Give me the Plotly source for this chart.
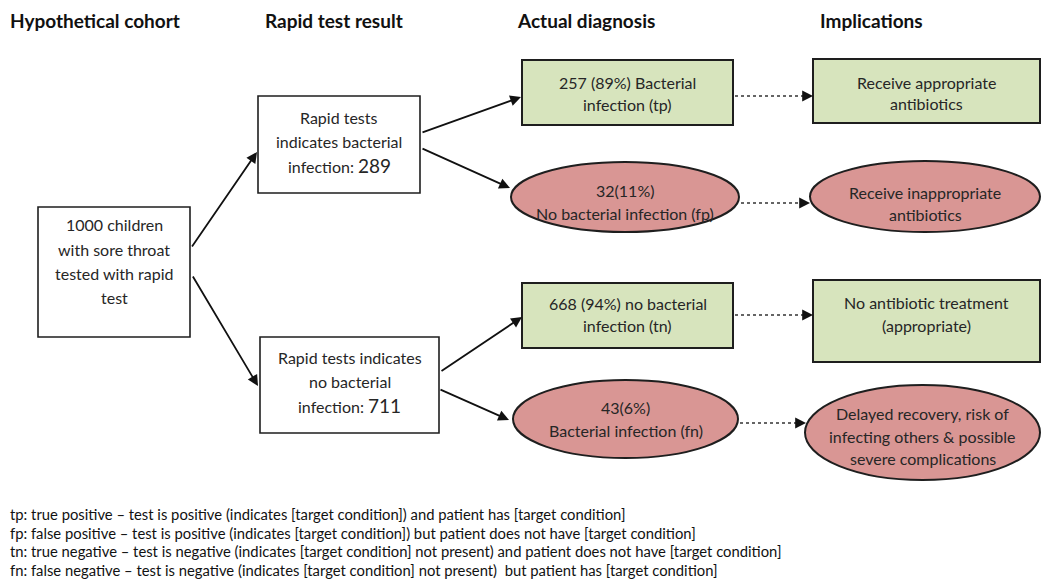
import plotly.graph_objects as go

# ---------------- data ----------------
headers = ["Hypothetical cohort", "Rapid test result", "Actual diagnosis", "Implications"]
cohort_n = 1000
test_positive = 289
test_negative = 711
diag_counts = [257, 32, 668, 43]          # tp, fp, tn, fn
diag_pcts = [89, 11, 94, 6]
diag_codes = ["tp", "fp", "tn", "fn"]
implications = [
    ["Receive appropriate", "antibiotics"],
    ["Receive inappropriate", "antibiotics"],
    ["No antibiotic treatment", "(appropriate)"],
    ["Delayed recovery, risk of", "infecting others & possible", "severe complications"],
]
footnotes = [
    "tp: true positive \u2013 test is positive (indicates [target condition]) and patient has [target condition]",
    "fp: false positive \u2013 test is positive (indicates [target condition]) but patient does not have [target condition]",
    "tn: true negative \u2013 test is negative (indicates [target condition] not present) and patient does not have [target condition]",
    "fn: false negative \u2013 test is negative (indicates [target condition] not present)  but patient has [target condition]",
]

# ---------------- text built from data ----------------
num = lambda v: f"<span style='font-size:19px'>{v}</span>"
cohort_lines = [f"{cohort_n} children", "with sore throat", "tested with rapid", "test"]
pos_lines = ["Rapid tests", "indicates bacterial", f"infection: {num(test_positive)}"]
neg_lines = ["Rapid tests indicates", "no bacterial", f"infection: {num(test_negative)}"]
diag_lines = [
    [f"{diag_counts[0]} ({diag_pcts[0]}%) Bacterial", f"infection ({diag_codes[0]})"],
    [f"{diag_counts[1]}({diag_pcts[1]}%)", f"No bacterial infection ({diag_codes[1]})"],
    [f"{diag_counts[2]} ({diag_pcts[2]}%) no bacterial", f"infection ({diag_codes[2]})"],
    [f"{diag_counts[3]}({diag_pcts[3]}%)", f"Bacterial infection ({diag_codes[3]})"],
]

# ---------------- layout geometry ----------------
GREEN = "#d7e4bd"
RED = "#d99694"
EDGE = "#1e1e1e"
TXT = "#262626"
FONT = "Lato, Open Sans, sans-serif"
PAGE_OFFSET = 8  # browser body margin

nodes = [
    # kind, x0, y0, x1, y1, fill, line ys, lines
    ("rect", 38, 207, 190, 337, "white", [224, 249, 273, 297], cohort_lines),
    ("rect", 258, 96, 420, 193, "white", [117, 141, 165], pos_lines),
    ("rect", 260, 337, 439, 433, "white", [357, 381, 405], neg_lines),
    ("rect", 522, 60, 733, 125, GREEN, [82, 104], diag_lines[0]),
    ("circle", 511, 162, 739, 232, RED, [190, 213], diag_lines[1]),
    ("rect", 522, 283, 733, 348, GREEN, [303, 325], diag_lines[2]),
    ("circle", 513, 380, 738, 458, RED, [407, 430], diag_lines[3]),
    ("rect", 813, 59, 1040, 123, GREEN, [82, 103], implications[0]),
    ("circle", 810, 161, 1040, 232, RED, [192, 214], implications[1]),
    ("rect", 813, 280, 1040, 362, GREEN, [302, 325], implications[2]),
    ("circle", 805, 385, 1040, 480, RED, [413, 436, 458], implications[3]),
]

solid_arrows = [  # (x_from, y_from, x_to, y_to)
    (191, 248, 257, 152),
    (192, 275, 258, 386),
    (421, 133, 521, 97),
    (421, 148, 510, 188),
    (440, 372, 522, 317),
    (439, 389, 509, 420),
]
dotted_arrows = [  # (x_from, x_to, y)
    (733, 813, 96),
    (739, 810, 203),
    (733, 813, 315),
    (738, 806, 423),
]

shapes = []
annotations = []

for kind, x0, y0, x1, y1, fill, ys, lines in nodes:
    shapes.append(dict(type=kind, xref="x", yref="y", x0=x0, y0=y0, x1=x1, y1=y1,
                       fillcolor=fill, line=dict(color=EDGE, width=2 if fill != "white" else 1.6),
                       layer="below"))
    cx = (x0 + x1) / 2
    for y, t in zip(ys, lines):
        annotations.append(dict(x=cx, y=y, xref="x", yref="y", text=t, showarrow=False,
                                xanchor="center", yanchor="middle",
                                font=dict(family=FONT, size=16, color=TXT)))

for xf, yf, xt, yt in solid_arrows:
    annotations.append(dict(x=xt, y=yt, ax=xf, ay=yf, xref="x", yref="y", axref="x", ayref="y",
                            text="", showarrow=True, arrowhead=2, arrowsize=1.2, arrowwidth=1.8,
                            arrowcolor="#111111", standoff=0, startstandoff=0))

for xf, xt, y in dotted_arrows:
    shapes.append(dict(type="line", xref="x", yref="y", x0=xf + 2, y0=y, x1=xt - 6, y1=y,
                       line=dict(color="#333333", width=1.4, dash="dot")))
    annotations.append(dict(x=xt, y=y, ax=xt - 8, ay=y, xref="x", yref="y", axref="x", ayref="y",
                            text="", showarrow=True, arrowhead=2, arrowsize=1.2, arrowwidth=1.8,
                            arrowcolor="#111111", standoff=0, startstandoff=0))

header_x = [8, 263, 515, 818]
for hx, h in zip(header_x, headers):
    annotations.append(dict(x=hx, y=20, xref="x", yref="y", text=f"<b>{h}</b>", showarrow=False,
                            xanchor="left", yanchor="middle",
                            font=dict(family=FONT, size=19, color="#111111")))

foot_y = [514, 533, 551, 570]
for fy, t in zip(foot_y, footnotes):
    annotations.append(dict(x=8, y=fy, xref="x", yref="y", text=t, showarrow=False,
                            xanchor="left", yanchor="middle",
                            font=dict(family=FONT, size=14.8, color="#111111")))

W, H = 1050, 580
fig = go.Figure()
fig.add_trace(go.Scatter(x=[PAGE_OFFSET, W], y=[PAGE_OFFSET, H], mode="markers", marker=dict(opacity=0),
                         hoverinfo="skip", showlegend=False))
fig.update_layout(
    width=W - PAGE_OFFSET, height=H - PAGE_OFFSET, margin=dict(l=0, r=0, t=0, b=0),
    paper_bgcolor="white", plot_bgcolor="white",
    xaxis=dict(range=[PAGE_OFFSET, W], visible=False, fixedrange=True),
    yaxis=dict(range=[H, PAGE_OFFSET], visible=False, fixedrange=True),
    shapes=shapes, annotations=annotations, showlegend=False,
)
fig.write_html("out.html")
